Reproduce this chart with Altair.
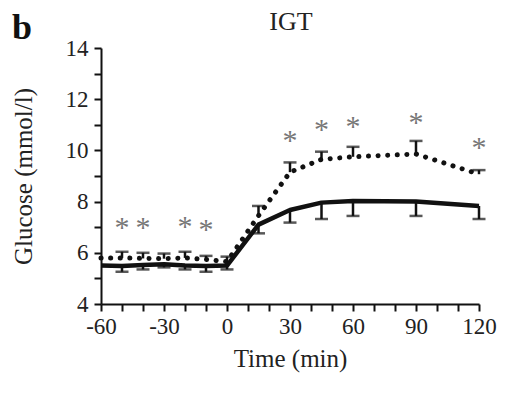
import altair as alt
import pandas as pd

# ---- data ----
time = [-60, -50, -40, -30, -20, -10, 0, 15, 30, 45, 60, 90, 120]
dotted_mean = [5.8, 5.8, 5.78, 5.77, 5.8, 5.74, 5.65, 7.45, 9.15, 9.65, 9.75, 9.86, 9.07]
solid_mean = [5.5, 5.48, 5.52, 5.55, 5.5, 5.48, 5.5, 7.1, 7.67, 7.96, 8.02, 8.0, 7.83]

err_time = [-50, -40, -30, -20, -10, 0, 15, 30, 45, 60, 90, 120]
dotted_upper = [6.04, 6.0, 5.97, 6.04, 5.88, 5.85, 7.83, 9.53, 9.95, 10.14, 10.37, 9.23]
solid_lower = [5.26, 5.35, 5.43, 5.35, 5.26, 5.35, 6.76, 7.18, 7.32, 7.44, 7.44, 7.32]

star_time = [-50, -40, -20, -10, 30, 45, 60, 90, 120]
star_y = [7.16, 7.16, 7.2, 7.09, 10.56, 11.0, 11.12, 11.25, 10.28]

panel_label = "b"
panel_title = "IGT"
x_title = "Time (min)"
y_title = "Glucose (mmol/l)"

# ---- tables ----
df = pd.DataFrame({"time": time, "dotted": dotted_mean, "solid": solid_mean})
dm = dict(zip(time, dotted_mean))
sm = dict(zip(time, solid_mean))
df_err = pd.DataFrame({
    "time": err_time,
    "dotted_mean": [dm[t] for t in err_time],
    "dotted_upper": dotted_upper,
    "solid_mean": [sm[t] for t in err_time],
    "solid_lower": solid_lower,
})
df_star = pd.DataFrame({"time": star_time, "y": star_y, "s": ["*"] * len(star_time)})

FONT = "Liberation Serif"
INK = "#111111"

xscale = alt.Scale(domain=[-60, 120], nice=False, zero=False)
yscale = alt.Scale(domain=[4, 14], nice=False, zero=False)

xaxis = alt.Axis(
    values=list(range(-60, 121, 10)),
    labelExpr="datum.value % 30 === 0 ? '' + datum.value : ''",
    title=x_title, titleX=189, titleY=62, titleBaseline="alphabetic",
    labelBaseline="alphabetic", labelPadding=22, labelFlush=False,
)
yaxis = alt.Axis(
    values=list(range(4, 15)),
    labelExpr="datum.value % 2 === 0 ? '' + datum.value : ''",
    title=y_title, titleX=-70, titleY=128, titleAngle=270,
    titleAlign="center", titleBaseline="alphabetic",
    labelPadding=6,
)

X = alt.X("time:Q", scale=xscale, axis=xaxis)

def Y(field):
    return alt.Y(f"{field}:Q", scale=yscale, axis=yaxis)

solid_line = alt.Chart(df).mark_line(
    color=INK, strokeWidth=4.5, interpolate="linear", strokeJoin="round"
).encode(x=X, y=Y("solid"))
dotted_line = alt.Chart(df).mark_line(
    color=INK, strokeWidth=5, strokeCap="round", strokeDash=[0.1, 9.5], interpolate="linear"
).encode(x=X, y=Y("dotted"))

solid_stem = alt.Chart(df_err).mark_rule(color=INK, strokeWidth=2.5).encode(
    x=X, y=Y("solid_lower"), y2="solid_mean:Q")
solid_cap = alt.Chart(df_err).mark_tick(color=INK, orient="horizontal", size=13, thickness=2.5).encode(
    x=X, y=Y("solid_lower"))
dotted_stem = alt.Chart(df_err).mark_rule(color=INK, strokeWidth=2.5).encode(
    x=X, y=Y("dotted_mean"), y2="dotted_upper:Q")
dotted_cap = alt.Chart(df_err).mark_tick(color=INK, orient="horizontal", size=13, thickness=2.5).encode(
    x=X, y=Y("dotted_upper"))

stars = alt.Chart(df_star).mark_text(
    font=FONT, fontSize=30, color="#777777", baseline="alphabetic", align="center", dy=14
).encode(x=X, y=Y("y"), text="s:N")

lbl_b = alt.Chart(pd.DataFrame({"t": [panel_label]})).mark_text(
    font=FONT, fontSize=36, fontWeight="bold", color="#111", align="left", baseline="alphabetic"
).encode(text="t:N", x=alt.value(-89), y=alt.value(-9))
lbl_title = alt.Chart(pd.DataFrame({"t": [panel_title]})).mark_text(
    font=FONT, fontSize=26, color="#222", align="center", baseline="alphabetic"
).encode(text="t:N", x=alt.value(190), y=alt.value(-18))

chart = alt.layer(
    solid_line, dotted_line, solid_stem, solid_cap, dotted_stem, dotted_cap, stars, lbl_b, lbl_title
).properties(
    width=378, height=256,
    autosize=alt.AutoSizeParams(type="none"),
    padding={"left": 93, "top": 40, "right": 41, "bottom": 81},
).configure_axis(
    grid=False, domainColor=INK, domainWidth=2, tickColor=INK, tickWidth=2, tickSize=7,
    labelFont=FONT, labelFontSize=23, labelColor="#222",
    titleFont=FONT, titleFontSize=25, titleFontWeight="normal", titleColor="#222",
).configure_view(stroke=None)

chart.save("out.html", embed_options={"renderer": "svg", "actions": False})
